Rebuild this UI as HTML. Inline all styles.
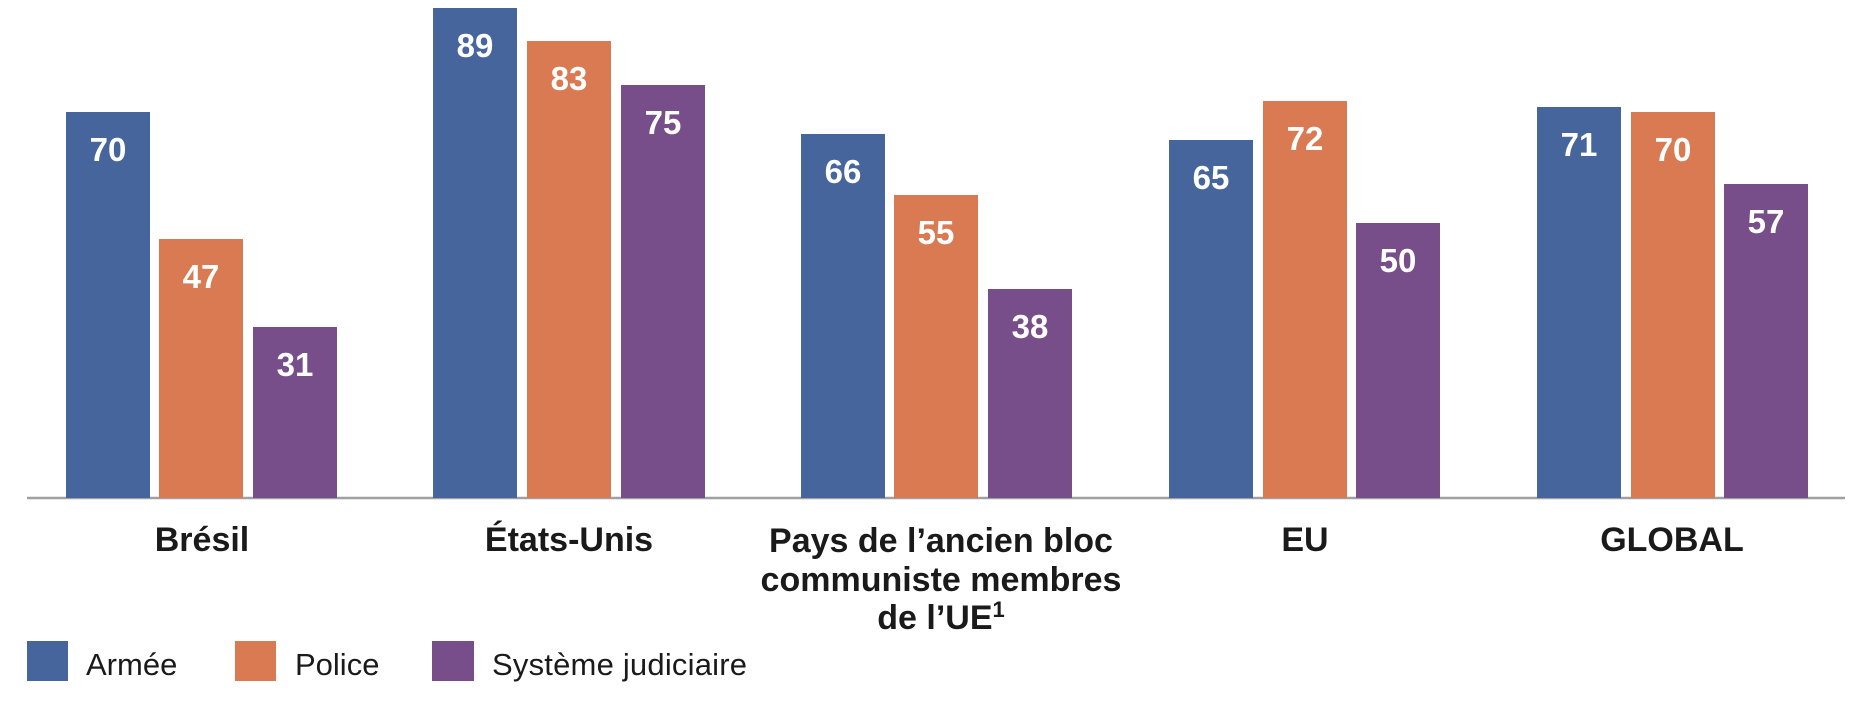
<!DOCTYPE html>
<html><head><meta charset="utf-8"><style>
html,body{margin:0;padding:0;background:#fff;}
svg{display:block;}
.v{font-family:"Liberation Sans",sans-serif;font-weight:bold;font-size:33px;fill:#fff;text-anchor:middle;}
.c{font-family:"Liberation Sans",sans-serif;font-weight:bold;font-size:34px;fill:#1a1a1a;text-anchor:middle;}
.l{font-family:"Liberation Sans",sans-serif;font-size:31px;fill:#1a1a1a;}
</style></head><body>
<svg width="1876" height="702" viewBox="0 0 1876 702" xmlns="http://www.w3.org/2000/svg">
<g id="bars"></g>
<line x1="27" y1="498" x2="1845" y2="498" stroke="#a0a0a0" stroke-width="2.5"/>
<!-- Brésil -->
<rect x="66" y="112" width="84" height="386" fill="#46659c"/>
<rect x="159" y="239" width="84" height="259" fill="#d97a53"/>
<rect x="253" y="327" width="84" height="171" fill="#774e8a"/>
<text class="v" x="108" y="161">70</text>
<text class="v" x="201" y="288">47</text>
<text class="v" x="295" y="376">31</text>
<!-- États-Unis -->
<rect x="433" y="8" width="84" height="490" fill="#46659c"/>
<rect x="527" y="41" width="84" height="457" fill="#d97a53"/>
<rect x="621" y="85" width="84" height="413" fill="#774e8a"/>
<text class="v" x="475" y="57">89</text>
<text class="v" x="569" y="90">83</text>
<text class="v" x="663" y="134">75</text>
<!-- Pays -->
<rect x="801" y="134" width="84" height="364" fill="#46659c"/>
<rect x="894" y="195" width="84" height="303" fill="#d97a53"/>
<rect x="988" y="289" width="84" height="209" fill="#774e8a"/>
<text class="v" x="843" y="183">66</text>
<text class="v" x="936" y="244">55</text>
<text class="v" x="1030" y="338">38</text>
<!-- EU -->
<rect x="1169" y="140" width="84" height="358" fill="#46659c"/>
<rect x="1263" y="101" width="84" height="397" fill="#d97a53"/>
<rect x="1356" y="223" width="84" height="275" fill="#774e8a"/>
<text class="v" x="1211" y="189">65</text>
<text class="v" x="1305" y="150">72</text>
<text class="v" x="1398" y="272">50</text>
<!-- GLOBAL -->
<rect x="1537" y="107" width="84" height="391" fill="#46659c"/>
<rect x="1631" y="112" width="84" height="386" fill="#d97a53"/>
<rect x="1724" y="184" width="84" height="314" fill="#774e8a"/>
<text class="v" x="1579" y="156">71</text>
<text class="v" x="1673" y="161">70</text>
<text class="v" x="1766" y="233">57</text>
<!-- categories -->
<text class="c" x="202" y="551">Brésil</text>
<text class="c" x="569" y="551">États-Unis</text>
<text class="c" x="941" y="552">Pays de l’ancien bloc</text>
<text class="c" x="941" y="591">communiste membres</text>
<text class="c" x="941" y="629">de l’UE<tspan font-size="22" dy="-12">1</tspan></text>
<text class="c" x="1305" y="551">EU</text>
<text class="c" x="1672" y="551">GLOBAL</text>
<!-- legend -->
<rect x="27" y="641" width="41" height="40" fill="#46659c"/>
<text class="l" x="86" y="675">Armée</text>
<rect x="235" y="641" width="41" height="40" fill="#d97a53"/>
<text class="l" x="295" y="675">Police</text>
<rect x="432" y="641" width="42" height="40" fill="#774e8a"/>
<text class="l" x="492" y="675" textLength="255">Système judiciaire</text>
</svg>
</body></html>
